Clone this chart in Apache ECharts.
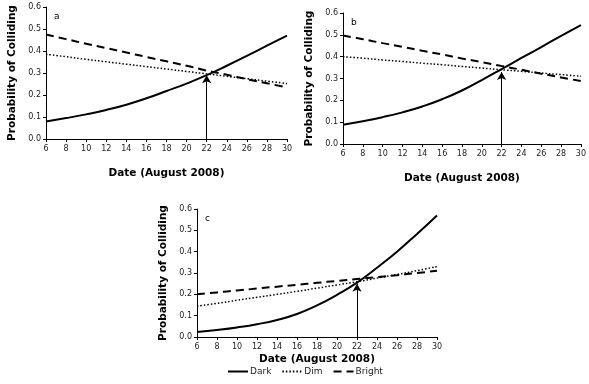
<!DOCTYPE html>
<html><head><meta charset="utf-8">
<script src="https://cdn.jsdelivr.net/npm/echarts@6/dist/echarts.min.js"></script>
<style>html,body{margin:0;padding:0;background:#fff}#c{width:589px;height:384px}</style>
</head><body><div id="c"></div>
<script>
var dates = [6,8,10,12,14,16,18,20,22,24,26,28,30];
var yTicks = [0,0.1,0.2,0.3,0.4,0.5,0.6];
var seriesNames = ['Dark','Dim','Bright'];
var panelLabels = ['a','b','c'];
// Panel a
var darkA   = [0.080,0.095,0.112,0.132,0.156,0.185,0.218,0.252,0.290,0.333,0.378,0.424,0.470];
var dimA    = [0.385,0.374,0.362,0.351,0.340,0.329,0.318,0.307,0.296,0.285,0.274,0.263,0.252];
var brightA = [0.475,0.454,0.433,0.413,0.393,0.373,0.353,0.333,0.311,0.292,0.272,0.253,0.235];
// Panel b
var darkB   = [0.088,0.104,0.123,0.145,0.172,0.205,0.245,0.293,0.343,0.394,0.444,0.495,0.545];
var dimB    = [0.400,0.393,0.385,0.378,0.370,0.363,0.355,0.348,0.340,0.333,0.325,0.318,0.310];
var brightB = [0.497,0.480,0.462,0.445,0.427,0.410,0.392,0.375,0.357,0.340,0.322,0.305,0.288];
// Panel c
var darkC   = [0.023,0.033,0.045,0.060,0.080,0.108,0.148,0.198,0.255,0.325,0.400,0.483,0.570];
var dimC    = [0.145,0.158,0.172,0.186,0.200,0.214,0.229,0.244,0.259,0.276,0.293,0.311,0.330];
var brightC = [0.200,0.209,0.218,0.227,0.236,0.245,0.254,0.263,0.272,0.281,0.290,0.300,0.310];
var arrowTops = [0.29, 0.33, 0.25];
var arrowDate = 22;

var panels = [[darkA,dimA,brightA],[darkB,dimB,brightB],[darkC,dimC,brightC]];
var grids = [
  {left:46, top:7, width:241, height:132},
  {left:343, top:13, width:238, height:131},
  {left:197, top:209, width:240, height:128}
];
var FONT = 'DejaVu Sans';
var styles = [
  {type:'solid', width:2},
  {type:[1.5,2], width:1.5},
  {type:[8,5], width:2}
];
function pair(arr){ return dates.map(function(d,i){return [d,arr[i]];}); }

var xAxes=[], yAxes=[], series=[], graphics=[];
grids.forEach(function(g,k){
  xAxes.push({type:'value', gridIndex:k, min:6, max:30, interval:2,
    name:'Date (August 2008)', nameLocation:'middle', nameGap: k===2?17:29,
    nameTextStyle:{fontFamily:FONT, fontWeight:'bold', fontSize:10.5, color:'#000'},
    axisLine:{lineStyle:{color:'#000', width:1}},
    axisTick:{show:true, length:3, lineStyle:{color:'#000'}},
    axisLabel:{fontFamily:FONT, fontSize:8, color:'#222', margin:6},
    splitLine:{show:false}});
  yAxes.push({type:'value', gridIndex:k, min:0, max:0.6, interval:0.1,
    name:'Probability of Colliding', nameLocation:'middle', nameGap:28,
    nameTextStyle:{fontFamily:FONT, fontWeight:'bold', fontSize:10.5, color:'#000'},
    axisLine:{show:true, lineStyle:{color:'#000', width:1}},
    axisTick:{show:true, length:3, lineStyle:{color:'#000'}},
    axisLabel:{fontFamily:FONT, fontSize:8, color:'#222', margin:5,
      formatter:function(v){return v.toFixed(1);}},
    splitLine:{show:false}});
  panels[k].forEach(function(arr,j){
    var s = {name:seriesNames[j], type:'line', xAxisIndex:k, yAxisIndex:k,
      data:pair(arr), smooth:true, symbol:'none', color:'#000',
      lineStyle:{color:'#000', width:styles[j].width, type:styles[j].type},
      z: 3-j};
    if(j===0){
      s.markLine = {silent:true, symbol:['none','arrow'], symbolSize:[7,8],
        lineStyle:{color:'#000', width:1, type:'solid'}, label:{show:false},
        data:[[{coord:[arrowDate,0]},{coord:[arrowDate,arrowTops[k]]}]]};
    }
    series.push(s);
  });
  graphics.push({type:'text', left:g.left+8, top:g.top+5,
    style:{text:panelLabels[k], font:'9px '+FONT, fill:'#000'}});
});

var chart = echarts.init(document.getElementById('c'), null, {renderer:'canvas'});
chart.setOption({
  animation:false,
  backgroundColor:'#fff',
  grid:grids,
  xAxis:xAxes, yAxis:yAxes,
  series:series,
  graphic:graphics,
  legend:{data:seriesNames, bottom:3, left:222, itemWidth:20, itemHeight:10, itemGap:10,
    itemStyle:{opacity:0},
    textStyle:{fontFamily:FONT, fontSize:9, color:'#222', padding:[0,0,0,-3]}}
});
</script></body></html>
